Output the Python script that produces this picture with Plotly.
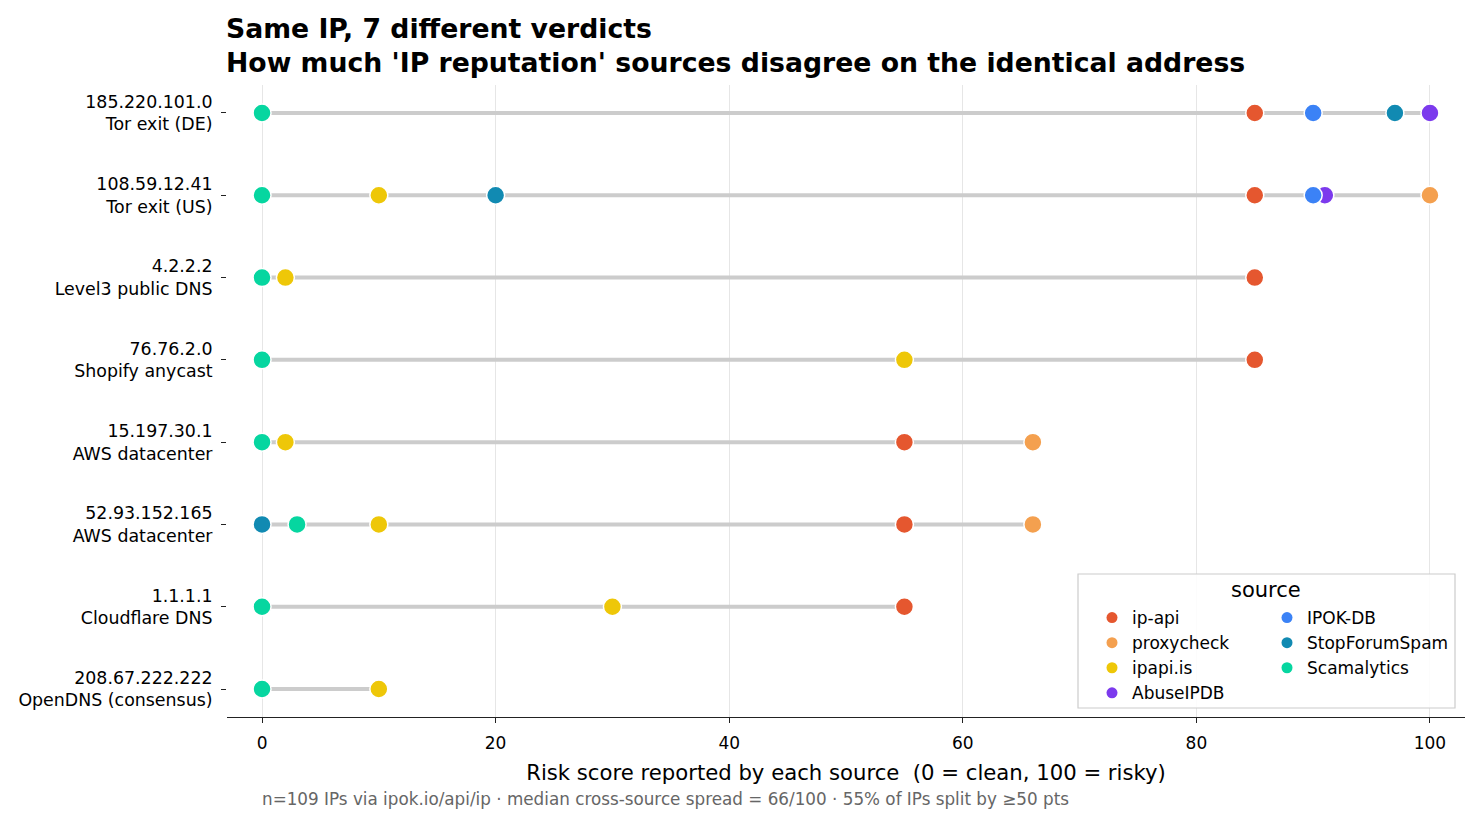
import plotly.graph_objects as go

ips = ["185.220.101.0", "108.59.12.41", "4.2.2.2", "76.76.2.0",
       "15.197.30.1", "52.93.152.165", "1.1.1.1", "208.67.222.222"]
descs = ["Tor exit (DE)", "Tor exit (US)", "Level3 public DNS", "Shopify anycast",
         "AWS datacenter", "AWS datacenter", "Cloudflare DNS", "OpenDNS (consensus)"]

sources = ["ip-api", "proxycheck", "ipapi.is", "AbuseIPDB", "IPOK-DB", "StopForumSpam", "Scamalytics"]
colors = ["#E5572F", "#F4A04F", "#EEC708", "#7C3AED", "#3B82F6", "#118AB2", "#06D6A0"]

ip_api = [85, 85, 85, 85, 55, 55, 55, None]
proxycheck = [None, 100, None, None, 66, 66, None, None]
ipapi_is = [None, 10, 2, 55, 2, 10, 30, 10]
abuseipdb = [100, 91, None, None, None, None, None, None]
ipok_db = [90, 90, None, None, None, None, None, None]
stopforumspam = [97, 20, None, None, None, 0, None, None]
scamalytics = [0, 0, 0, 0, 0, 3, 0, 0]

scores = [ip_api, proxycheck, ipapi_is, abuseipdb, ipok_db, stopforumspam, scamalytics]

title_lines = ["Same IP, 7 different verdicts",
               "How much 'IP reputation' sources disagree on the identical address"]

FONT = "DejaVu Sans"
rows = list(range(len(ips)))
ticktext = [f"{a}<br>{b}" for a, b in zip(ips, descs)]

# pixel geometry of the plot area
PL, PR, PT, PB = 227, 1465, 85, 717
PW, PH = PR - PL, PB - PT
def px(x):
    return (x - PL) / PW
def py(y):
    return (PB - y) / PH

fig = go.Figure()

# connecting range lines
lx, ly = [], []
for r in rows:
    vals = [s[r] for s in scores if s[r] is not None]
    lx += [min(vals), max(vals), None]
    ly += [r, r, None]
fig.add_trace(go.Scatter(x=lx, y=ly, mode="lines", line=dict(color="#cccccc", width=4),
                         showlegend=False, hoverinfo="skip"))

for name, col, vals in zip(sources, colors, scores):
    xs = [v for v in vals if v is not None]
    ys = [r for r, v in zip(rows, vals) if v is not None]
    fig.add_trace(go.Scatter(x=xs, y=ys, mode="markers", name=name, showlegend=False,
                             marker=dict(size=18, color=col, line=dict(color="white", width=1.5))))

for i, (name, col) in enumerate(zip(sources, colors)):
    fig.add_trace(go.Scatter(x=[None], y=[None], mode="markers", name=name,
                             marker=dict(size=11, color=col),
                             legend="legend" if i < 4 else "legend2"))

legend_common = dict(bgcolor="rgba(0,0,0,0)", borderwidth=0, itemsizing="trace",
                     font=dict(family=FONT, size=17, color="#000"),
                     xanchor="left", yanchor="top", tracegroupgap=0)
fig.update_layout(
    width=1479, height=823,
    margin=dict(l=PL, r=1479 - PR, t=PT, b=823 - PB),
    paper_bgcolor="white", plot_bgcolor="white",
    font=dict(family=FONT, color="#000"),
    xaxis=dict(range=[-3, 103], tickvals=[0, 20, 40, 60, 80, 100],
               showgrid=True, gridcolor="#e6e6e6", gridwidth=1, zeroline=False,
               showline=True, linecolor="#222", linewidth=1.3,
               ticks="outside", ticklen=5, tickcolor="#222", ticklabelstandoff=5,
               tickfont=dict(family=FONT, size=17, color="#000"),
               title=dict(text="Risk score reported by each source  (0 = clean, 100 = risky)",
                          font=dict(family=FONT, size=21.2, color="#000"), standoff=13)),
    yaxis=dict(range=[7.34, -0.34], tickvals=rows, ticktext=ticktext,
               showgrid=False, zeroline=False, showline=False,
               ticks="outside", ticklen=5, tickcolor="#222", ticklabelstandoff=5,
               tickfont=dict(family=FONT, size=17.4, color="#000")),
    legend=dict(x=px(1092), y=py(600), **legend_common),
    legend2=dict(x=px(1267), y=py(600), **legend_common),
    shapes=[dict(type="rect", xref="paper", yref="paper",
                 x0=px(1078), x1=px(1455), y0=py(708), y1=py(574),
                 fillcolor="rgba(255,255,255,0.85)", line=dict(color="#cccccc", width=1.2),
                 layer="above")],
    annotations=[
        dict(text=f"<b>{title_lines[0]}</b>", xref="paper", yref="paper", x=px(224), y=py(29),
             xanchor="left", yanchor="middle", showarrow=False,
             font=dict(family=FONT, size=26.7, color="#000")),
        dict(text=f"<b>{title_lines[1]}</b>", xref="paper", yref="paper", x=px(224), y=py(62),
             xanchor="left", yanchor="middle", showarrow=False,
             font=dict(family=FONT, size=26.7, color="#000")),
        dict(text="source", xref="paper", yref="paper", x=px(1266), y=py(590),
             xanchor="center", yanchor="middle", showarrow=False,
             font=dict(family=FONT, size=21, color="#000")),
        dict(text="n=109 IPs via ipok.io/api/ip · median cross-source spread = 66/100 · 55% of IPs split by ≥50 pts",
             xref="paper", yref="paper", x=px(260), y=py(799),
             xanchor="left", yanchor="middle", showarrow=False,
             font=dict(family=FONT, size=16.8, color="#666666")),
    ],
)

fig.write_html("out.html")
